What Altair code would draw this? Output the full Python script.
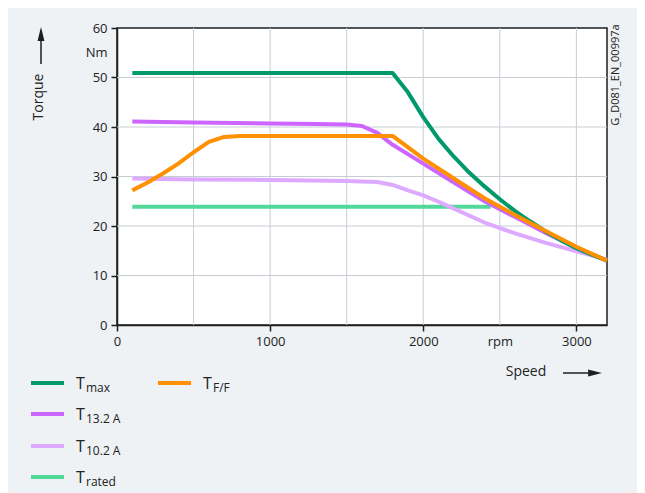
import altair as alt
import pandas as pd

# ---- data ----
speed_max = [100, 1800, 1900, 2000, 2100, 2200, 2300, 2400, 2500, 2600, 2700, 2800, 2900, 3000, 3100, 3200]
torque_max = [50.9, 50.9, 47.0, 42.0, 37.6, 34.0, 30.8, 28.0, 25.4, 23.0, 20.9, 18.9, 17.1, 15.5, 14.2, 13.0]

speed_ff = [100, 200, 300, 400, 500, 600, 700, 800, 1800, 2000, 2200, 2400, 2600, 2800, 3000, 3200]
torque_ff = [27.2, 28.8, 30.6, 32.6, 34.9, 37.0, 38.0, 38.2, 38.2, 33.6, 29.6, 25.6, 22.2, 19.0, 15.8, 13.0]

speed_132 = [100, 500, 1000, 1300, 1500, 1600, 1700, 1800, 2000, 2200, 2400, 2600, 2800, 3000, 3200]
torque_132 = [41.1, 40.9, 40.7, 40.6, 40.5, 40.2, 38.8, 36.4, 32.6, 28.8, 25.0, 21.8, 18.6, 15.6, 13.0]

speed_102 = [100, 500, 1000, 1500, 1700, 1800, 1900, 2000, 2100, 2200, 2400, 2600, 2800, 3000, 3200]
torque_102 = [29.6, 29.4, 29.3, 29.1, 28.9, 28.3, 27.2, 26.2, 24.9, 23.5, 20.7, 18.5, 16.6, 14.9, 13.2]

speed_rated = [100, 2440]
torque_rated = [23.9, 23.9]

x_ticks = [0, 1000, 2000, 2500, 3000]
y_ticks = [0, 10, 20, 30, 40, 50, 55, 60]
x_grid = [500, 1000, 1500, 2000, 2500, 3000]
y_grid = [10, 20, 30, 40, 50]

series = [
    ("rated", speed_rated, torque_rated, "#52d99a"),
    ("10.2 A", speed_102, torque_102, "#ddaaff"),
    ("13.2 A", speed_132, torque_132, "#cc66ff"),
    ("max", speed_max, torque_max, "#00996c"),
    ("F/F", speed_ff, torque_ff, "#ff9000"),
]

FONT = "Open Sans"
DARK = "#1e1e1e"
W, H = 490, 297

xs = alt.Scale(domain=[0, 3200], nice=False, zero=False)
ys = alt.Scale(domain=[0, 60], nice=False)

x_axis = alt.Axis(values=x_ticks, format="d", grid=False,
                  labelExpr="datum.value == 2500 ? 'rpm' : datum.label",
                  tickOpacity={"condition": {"test": "datum.value == 2500", "value": 0}, "value": 1},
                  tickSize=6, tickColor=DARK, domainColor=DARK, domainWidth=1.5, tickWidth=1.5,
                  labelFont=FONT, labelFontSize=13, labelColor="#222222", labelPadding=4,
                  labelFlush=False, labelOverlap=False)
y_axis = alt.Axis(values=y_ticks, grid=False,
                  labelExpr="datum.value == 55 ? 'Nm' : datum.label",
                  tickOpacity={"condition": {"test": "datum.value == 55", "value": 0}, "value": 1},
                  tickSize=6, tickColor=DARK, domainColor=DARK, domainWidth=1.5, tickWidth=1.5,
                  labelFont=FONT, labelFontSize=13, labelColor="#222222", labelPadding=4,
                  labelFlush=False, labelOverlap=False)


def X(field):
    return alt.X(field, type="quantitative", scale=xs, title=None, axis=x_axis)


def Y(field):
    return alt.Y(field, type="quantitative", scale=ys, title=None, axis=y_axis)


# grid
gx = alt.Chart(pd.DataFrame({"s": x_grid})).mark_rule(color="#c6ced4", strokeWidth=1).encode(x=X("s"))
gy = alt.Chart(pd.DataFrame({"t": y_grid})).mark_rule(color="#c6ced4", strokeWidth=1).encode(y=Y("t"))

layers = [gx, gy]
for name, sp, tq, col in series:
    df = pd.DataFrame({"s": sp, "t": tq})
    layers.append(alt.Chart(df).mark_line(color=col, strokeWidth=4, strokeJoin="round").encode(
        x=X("s"), y=Y("t")))

# ---- custom legend (pixel offsets relative to plot origin) ----
one = pd.DataFrame({"a": [0]})
legend_items = [
    ("max", "#00996c", -86, 355),
    ("13.2 A", "#cc66ff", -86, 386),
    ("10.2 A", "#ddaaff", -86, 418),
    ("rated", "#52d99a", -86, 449),
    ("F/F", "#ff9000", 41, 355),
]
for sub, col, lx, ly in legend_items:
    layers.append(alt.Chart(one).mark_rule(color=col, strokeWidth=4).encode(
        x=alt.value(lx), x2=alt.value(lx + 33), y=alt.value(ly)))
    layers.append(alt.Chart(one).mark_text(text="T", font=FONT, fontSize=16, color="#222222",
                                           align="left", baseline="alphabetic").encode(
        x=alt.value(lx + 45), y=alt.value(ly + 6)))
    layers.append(alt.Chart(one).mark_text(text=sub, font=FONT, fontSize=12, color="#222222",
                                           align="left", baseline="alphabetic").encode(
        x=alt.value(lx + 55), y=alt.value(ly + 8.5)))

# axis titles with arrows
layers.append(alt.Chart(one).mark_text(text="Torque", font=FONT, fontSize=14, color="#222222",
                                       angle=270, align="center", baseline="middle").encode(
    x=alt.value(-78), y=alt.value(69)))
layers.append(alt.Chart(one).mark_rule(color=DARK, strokeWidth=1.5).encode(
    x=alt.value(-76), y=alt.value(36), y2=alt.value(10)))
layers.append(alt.Chart(one).mark_point(shape="M0,-1L0.5,1L-0.5,1Z", size=190, filled=True,
                                        color=DARK, opacity=1).encode(
    x=alt.value(-76), y=alt.value(6)))

layers.append(alt.Chart(one).mark_text(text="Speed", font=FONT, fontSize=14, color="#222222",
                                       align="center", baseline="middle").encode(
    x=alt.value(409), y=alt.value(344)))
layers.append(alt.Chart(one).mark_rule(color=DARK, strokeWidth=1.5).encode(
    x=alt.value(446), x2=alt.value(474), y=alt.value(345)))
layers.append(alt.Chart(one).mark_point(shape="M1,0L-1,-0.5L-1,0.5Z", size=190, filled=True,
                                        color=DARK, opacity=1).encode(
    x=alt.value(478), y=alt.value(345)))

layers.append(alt.Chart(one).mark_text(text="G_D081_EN_00997a", font=FONT, fontSize=11, color="#222222",
                                       angle=270, align="center", baseline="middle").encode(
    x=alt.value(499), y=alt.value(47)))

chart = alt.layer(*layers).properties(
    width=W, height=H,
    autosize=alt.AutoSizeParams(type="none"),
    padding={"left": 109, "top": 20, "right": 30, "bottom": 168},
    background="#eef2f5",
).configure_view(fill="white", stroke=DARK, strokeWidth=1.5)

chart.save("out.html", embed_options={"renderer": "svg", "actions": False})
